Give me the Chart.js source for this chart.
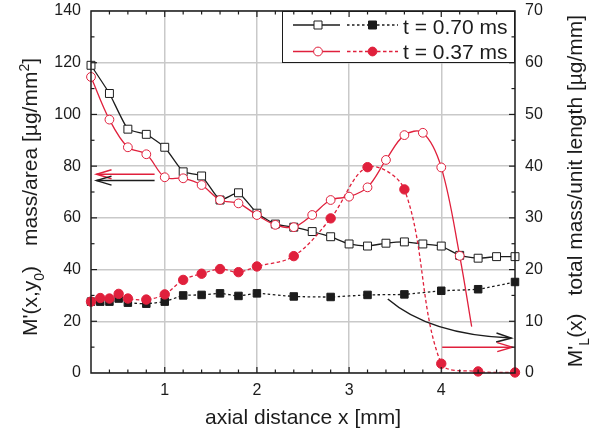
<!DOCTYPE html>
<html>
<head>
<meta charset="utf-8">
<script src="https://cdn.jsdelivr.net/npm/chart.js@4"></script>
<style>
  html, body { margin: 0; padding: 0; background: #fff; }
  #chart { display: block; }
</style>
</head>
<body>
<canvas id="chart" width="602" height="435"></canvas>
<script>
// axial positions [mm]
const xOpen70 = [0.2, 0.4, 0.6, 0.8, 1.0, 1.2, 1.4, 1.6, 1.8, 2.0, 2.2, 2.4, 2.6, 2.8, 3.0, 3.2, 3.4, 3.6, 3.8, 4.0, 4.2, 4.4, 4.6, 4.8];
const xOpen37 = [0.2, 0.4, 0.6, 0.8, 1.0, 1.2, 1.4, 1.6, 1.8, 2.0, 2.2, 2.4, 2.6, 2.8, 3.0, 3.2, 3.4, 3.6, 3.8, 4.0, 4.2, 4.33];
const xFilled = [0.2, 0.3, 0.4, 0.5, 0.6, 0.8, 1.0, 1.2, 1.4, 1.6, 1.8, 2.0, 2.4, 2.8, 3.2, 3.6, 4.0, 4.4, 4.8];

// M'(x,y0) mass/area [µg/mm²] (left axis)
const massArea70 = [119, 108.1, 94.3, 92.3, 87.3, 77.8, 76.2, 66.9, 69.7, 61.8, 57.6, 56.4, 54.7, 52.7, 49.9, 49.1, 50.2, 50.7, 49.9, 49.1, 45.5, 44.4, 45.0, 45.0];
const massArea37 = [114.5, 98, 87.3, 84.6, 75.7, 75.3, 72.7, 66.9, 65.6, 61.1, 57.3, 56.4, 61.1, 66.9, 68.2, 71.8, 82.4, 92.0, 92.9, 79.5, 45.3, 17.9];

// M'L(x) total mass/unit length [µg/mm] (right axis)
const massLength70 = [13.8, 13.8, 13.8, 14.4, 13.6, 13.4, 13.8, 15.0, 15.1, 15.4, 14.9, 15.4, 14.8, 14.7, 15.1, 15.2, 15.9, 16.2, 17.6];
const massLength37 = [13.8, 14.5, 14.4, 15.3, 14.4, 14.2, 15.2, 18.0, 19.2, 20.1, 19.5, 20.6, 22.6, 29.9, 39.8, 35.5, 1.8, 0.3, 0.1];

const xTickValues = [1, 2, 3, 4];
const xTickLabels = ['1', '2', '3', '4'];
const seriesLabels = ['t = 0.70 ms', 't = 0.37 ms'];

const BLACK = '#1c1c1c';
const RED = '#e0203c';
const GRID = '#c9c9c9';
const FONT = '"Liberation Sans", Arial, Helvetica, sans-serif';

// arrows in (x mm, left-axis value)
const arrows = [
    { color: RED, pts: [[0.89, 76.9], [0.26, 76.9]] },
    { color: BLACK, pts: [[0.89, 74.4], [0.26, 74.4]] },
    { color: BLACK, pts: [[3.42, 28.6], [3.87, 14.8], [4.76, 13.5]] },
    { color: RED, pts: [[4.01, 10.0], [4.77, 10.0]] }
];

const toXY = (xs, ys) => ys.map((y, i) => ({ x: xs[i], y: y }));

function marker(ctx, kind, x, y, color, filled) {
    ctx.beginPath();
    if (kind === 'rect') ctx.rect(x - 4, y - 4, 8, 8);
    else ctx.arc(x, y, 4.4, 0, Math.PI * 2);
    ctx.fillStyle = filled ? color : '#fff';
    ctx.fill();
    ctx.lineWidth = 1;
    ctx.strokeStyle = color;
    ctx.stroke();
}

function arrowHead(ctx, x, y, ang, len, half) {
    const bx = x - Math.cos(ang) * len, by = y - Math.sin(ang) * len;
    const nx = -Math.sin(ang) * half, ny = Math.cos(ang) * half;
    ctx.beginPath();
    ctx.moveTo(bx + nx, by + ny);
    ctx.lineTo(x, y);
    ctx.lineTo(bx - nx, by - ny);
    ctx.stroke();
}

// rotated text with sub/superscripts
function richText(ctx, parts, cx, cy, size, rotate) {
    const small = Math.round(size * 0.68);
    const fontOf = p => (p.sub || p.sup ? small : size) + 'px ' + FONT;
    let total = 0;
    parts.forEach(p => {
        if (p.gap) { total += p.gap; return; }
        ctx.font = fontOf(p);
        p.w = ctx.measureText(p.t).width;
        total += p.w;
    });
    ctx.save();
    ctx.translate(cx, cy);
    if (rotate) ctx.rotate(-Math.PI / 2);
    ctx.fillStyle = BLACK;
    ctx.textBaseline = 'alphabetic';
    ctx.textAlign = 'left';
    let pos = -total / 2;
    const base = size * 0.35;
    parts.forEach(p => {
        if (p.gap) { pos += p.gap; return; }
        ctx.font = fontOf(p);
        const dy = p.sub ? size * 0.3 : (p.sup ? -size * 0.42 : 0);
        ctx.fillText(p.t, pos, base + dy);
        pos += p.w;
    });
    ctx.restore();
}

function inwardTicks(ctx, scale, step, majorStep, side, area) {
    const n = Math.round((scale.max - scale.min) / step);
    for (let i = 1; i < n; i++) {
        const v = scale.min + i * step;
        const r = v / majorStep;
        const len = Math.abs(r - Math.round(r)) < 1e-6 ? 6 : 3.5;
        const p = scale.getPixelForValue(v);
        ctx.beginPath();
        if (side === 'bottom') { ctx.moveTo(p, area.bottom); ctx.lineTo(p, area.bottom - len); }
        if (side === 'top') { ctx.moveTo(p, area.top); ctx.lineTo(p, area.top + len); }
        if (side === 'left') { ctx.moveTo(area.left, p); ctx.lineTo(area.left + len, p); }
        if (side === 'right') { ctx.moveTo(area.right, p); ctx.lineTo(area.right - len, p); }
        ctx.stroke();
    }
}

const noPad = s => {
    s.paddingTop = 0;
    s.paddingBottom = 0;
    s.paddingLeft = 0;
    s.paddingRight = 0;
};

const decor = {
    id: 'decor',
    afterDatasetsDraw(chart) {
        const ctx = chart.ctx, xs = chart.scales.x, ys = chart.scales.y;
        ctx.save();
        ctx.lineWidth = 1.5;
        arrows.forEach(a => {
            const p = a.pts.map(q => [xs.getPixelForValue(q[0]), ys.getPixelForValue(q[1])]);
            ctx.strokeStyle = a.color;
            ctx.beginPath();
            ctx.moveTo(p[0][0], p[0][1]);
            if (p.length === 3) ctx.quadraticCurveTo(p[1][0], p[1][1], p[2][0], p[2][1]);
            else ctx.lineTo(p[1][0], p[1][1]);
            ctx.stroke();
            const e = p[p.length - 1], b = p[p.length - 2];
            arrowHead(ctx, e[0], e[1], Math.atan2(e[1] - b[1], e[0] - b[0]), 15, 4.5);
        });
        ctx.restore();
    },
    afterDraw(chart) {
        const ctx = chart.ctx, area = chart.chartArea;
        const sc = chart.scales;
        ctx.save();

        // legend box
        const lx = 282, ly = area.top, lr = area.right, lb = 63;
        ctx.fillStyle = '#fff';
        ctx.fillRect(lx, ly, lr - lx, lb - ly);
        ctx.strokeStyle = BLACK;
        ctx.lineWidth = 1;
        ctx.strokeRect(lx + 0.5, ly + 0.5, lr - lx - 1, lb - ly - 1);
        const rows = [
            { y: 25, color: BLACK, kind: 'rect', dash: [2.5, 2.5], text: seriesLabels[0], base: 33.5 },
            { y: 51.5, color: RED, kind: 'circle', dash: [3.5, 2.5], text: seriesLabels[1], base: 59 }
        ];
        rows.forEach(r => {
            ctx.strokeStyle = r.color;
            ctx.lineWidth = 1.3;
            ctx.setLineDash([]);
            ctx.beginPath(); ctx.moveTo(293, r.y); ctx.lineTo(340, r.y); ctx.stroke();
            ctx.setLineDash(r.dash);
            ctx.beginPath(); ctx.moveTo(347, r.y); ctx.lineTo(398, r.y); ctx.stroke();
            ctx.setLineDash([]);
            marker(ctx, r.kind, 318, r.y, r.color, false);
            marker(ctx, r.kind, 372.5, r.y, r.color, true);
            ctx.fillStyle = BLACK;
            ctx.font = '21px ' + FONT;
            ctx.textBaseline = 'alphabetic';
            ctx.textAlign = 'left';
            ctx.fillText(r.text, 403, r.base);
        });

        // frame and inward ticks
        ctx.strokeStyle = BLACK;
        ctx.lineWidth = 1.5;
        ctx.strokeRect(area.left, area.top, area.right - area.left, area.bottom - area.top);
        ctx.lineWidth = 1.2;
        inwardTicks(ctx, sc.x, 0.2, 1, 'bottom', area);
        inwardTicks(ctx, sc.x, 0.2, 1, 'top', area);
        inwardTicks(ctx, sc.y, 10, 20, 'left', area);
        inwardTicks(ctx, sc.y2, 5, 10, 'right', area);

        // axis titles
        richText(ctx, [{ t: 'axial distance x [mm]' }], (area.left + area.right) / 2, 417, 21, false);
        richText(ctx, [
            { t: "M'(x,y" }, { t: '0', sub: true }, { t: ')' }, { gap: 20 },
            { t: 'mass/area [µg/mm' }, { t: '2', sup: true }, { t: ']' }
        ], 30, 197, 21, true);
        richText(ctx, [
            { t: "M'" }, { t: 'L', sub: true }, { t: '(x)' }, { gap: 18 },
            { t: 'total mass/unit length [µg/mm]' }
        ], 575, 191, 21, true);
        ctx.restore();
    }
};

const tickFont = { family: FONT, size: 16 };

new Chart(document.getElementById('chart'), {
    type: 'line',
    data: {
        datasets: [
            {
                label: seriesLabels[1] + ' mass/area',
                data: toXY(xOpen37, massArea37),
                yAxisID: 'y',
                borderColor: RED,
                borderWidth: 1.3,
                tension: 0.35,
                pointStyle: 'circle',
                pointRadius: massArea37.map((v, i) => i === massArea37.length - 1 ? 0 : 4.4),
                pointBorderWidth: 1,
                pointBorderColor: RED,
                pointBackgroundColor: '#fff',
                order: 0,
                clip: false
            },
            {
                label: seriesLabels[1] + ' mass/length',
                data: toXY(xFilled, massLength37),
                yAxisID: 'y2',
                borderColor: RED,
                borderWidth: 1.3,
                borderDash: [3.5, 2.5],
                tension: 0.35,
                pointStyle: 'circle',
                pointRadius: 4.7,
                pointBorderWidth: 1,
                pointBorderColor: RED,
                pointBackgroundColor: RED,
                order: 1,
                clip: false
            },
            {
                label: seriesLabels[0] + ' mass/area',
                data: toXY(xOpen70, massArea70),
                yAxisID: 'y',
                borderColor: BLACK,
                borderWidth: 1.3,
                tension: 0.15,
                pointStyle: 'rect',
                pointRadius: 5.6,
                pointBorderWidth: 1,
                pointBorderColor: BLACK,
                pointBackgroundColor: '#fff',
                order: 2,
                clip: false
            },
            {
                label: seriesLabels[0] + ' mass/length',
                data: toXY(xFilled, massLength70),
                yAxisID: 'y2',
                borderColor: BLACK,
                borderWidth: 1.3,
                borderDash: [2.5, 2.5],
                tension: 0.15,
                pointStyle: 'rect',
                pointRadius: 5.3,
                pointBorderWidth: 1,
                pointBorderColor: BLACK,
                pointBackgroundColor: BLACK,
                order: 3,
                clip: false
            }
        ]
    },
    options: {
        responsive: false,
        animation: false,
        layout: { padding: { top: 11, left: 0, right: 0, bottom: 0 } },
        plugins: {
            legend: { display: false },
            tooltip: { enabled: false }
        },
        scales: {
            x: {
                type: 'linear',
                min: 0.2,
                max: 4.8,
                afterBuildTicks: s => { s.ticks = xTickValues.map(v => ({ value: v })); },
                afterFit: s => { s.height = 62; noPad(s); },
                ticks: {
                    autoSkip: false,
                    maxRotation: 0,
                    padding: 8,
                    color: BLACK,
                    font: tickFont,
                    callback: v => xTickLabels[xTickValues.indexOf(v)]
                },
                grid: { color: GRID, lineWidth: 1.5, drawTicks: false },
                border: { display: false }
            },
            y: {
                position: 'left',
                min: 0,
                max: 140,
                afterFit: s => { s.width = 91; noPad(s); },
                ticks: { stepSize: 20, padding: 10, color: BLACK, font: tickFont },
                grid: { color: GRID, lineWidth: 1.5, drawTicks: false },
                border: { display: false }
            },
            y2: {
                position: 'right',
                min: 0,
                max: 70,
                afterFit: s => { s.width = 87; noPad(s); },
                ticks: { stepSize: 10, padding: 10, color: BLACK, font: tickFont },
                grid: { display: false, drawTicks: false },
                border: { display: false }
            }
        }
    },
    plugins: [decor]
});
</script>
</body>
</html>
